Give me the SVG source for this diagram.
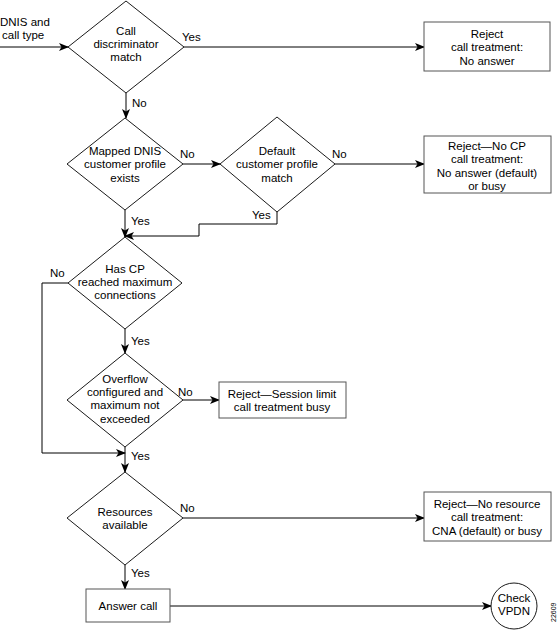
<svg xmlns="http://www.w3.org/2000/svg" width="560" height="633" viewBox="0 0 560 633">
<defs>
<marker id="ah" markerWidth="10" markerHeight="8" refX="9" refY="4" orient="auto" markerUnits="userSpaceOnUse">
<path d="M0,0 L10,4 L0,8 L2.5,4 Z" fill="#000"/>
</marker>
<style>
text{font-family:"Liberation Sans",Arial,sans-serif;font-size:11.5px;fill:#000}
.c{text-anchor:middle}
.n{fill:#fff;stroke:#000;stroke-width:0.9}
.b{fill:#fff;stroke:#555;stroke-width:1}
.l{fill:none;stroke:#000;stroke-width:1}
.a{marker-end:url(#ah)}
</style>
</defs>
<rect width="560" height="633" fill="#fff"/>
<g id="connectors">
<path class="l a" d="M0,47 H68"/>
<path class="l a" d="M184,47 H424"/>
<path class="l a" d="M126,93 V118"/>
<path class="l a" d="M183,164 H220"/>
<path class="l a" d="M335,164 H424"/>
<path class="l a" d="M125,210 V237"/>
<path class="l a" d="M277,212 V224 H199 V236 H125"/>
<path class="l a" d="M125,329 V353"/>
<path class="l a" d="M68,283 H42 V453 H125"/>
<path class="l a" d="M183,400 H219"/>
<path class="l a" d="M125,447 V472"/>
<path class="l a" d="M183,518 H424"/>
<path class="l a" d="M125,565 V589"/>
<path class="l a" d="M170,606 H491"/>
<text x="0" y="26">DNIS and</text>
<text x="2" y="39">call type</text>
<text x="182" y="41">Yes</text>
<text x="132" y="107">No</text>
<text x="180" y="158">No</text>
<text x="332" y="158">No</text>
<text x="131" y="225">Yes</text>
<text x="252" y="219">Yes</text>
<text x="50" y="277">No</text>
<text x="131" y="345">Yes</text>
<text x="178" y="396">No</text>
<text x="131" y="460">Yes</text>
<text x="180" y="512">No</text>
<text x="131" y="577">Yes</text>
</g>
<g id="d1">
<polygon class="n" points="126,1 184,47 126,93 68,47"/>
<text class="c" x="126" y="35">Call</text>
<text class="c" x="126" y="48">discriminator</text>
<text class="c" x="126" y="61">match</text>
</g>
<g id="r1">
<rect class="b" x="424" y="22" width="126" height="49"/>
<text class="c" x="487" y="38">Reject</text>
<text class="c" x="487" y="51">call treatment:</text>
<text class="c" x="487" y="65">No answer</text>
</g>
<g id="d2">
<polygon class="n" points="125,118 183,164 125,210 67,164"/>
<text class="c" x="125" y="155">Mapped DNIS</text>
<text class="c" x="125" y="168">customer profile</text>
<text class="c" x="125" y="182">exists</text>
</g>
<g id="d3">
<polygon class="n" points="277,117 335,164 277,212 220,164"/>
<text class="c" x="277" y="155">Default</text>
<text class="c" x="277" y="168">customer profile</text>
<text class="c" x="277" y="182">match</text>
</g>
<g id="r2">
<rect class="b" x="424" y="136" width="127" height="57"/>
<text class="c" x="487" y="150">Reject—No CP</text>
<text class="c" x="487" y="163">call treatment:</text>
<text class="c" x="487" y="177">No answer (default)</text>
<text class="c" x="487" y="190">or busy</text>
</g>
<g id="d4">
<polygon class="n" points="125,237 182,283 125,329 68,283"/>
<text class="c" x="125" y="273">Has CP</text>
<text class="c" x="125" y="286">reached maximum</text>
<text class="c" x="125" y="299">connections</text>
</g>
<g id="d5">
<polygon class="n" points="125,353 183,400 125,447 67,400"/>
<text class="c" x="125" y="383">Overflow</text>
<text class="c" x="125" y="396">configured and</text>
<text class="c" x="125" y="409">maximum not</text>
<text class="c" x="125" y="423">exceeded</text>
</g>
<g id="r3">
<rect class="b" x="219" y="382" width="127" height="36"/>
<text class="c" x="282" y="398">Reject—Session limit</text>
<text class="c" x="282" y="411">call treatment busy</text>
</g>
<g id="d6">
<polygon class="n" points="125,472 183,518 125,565 67,518"/>
<text class="c" x="125" y="516">Resources</text>
<text class="c" x="125" y="529">available</text>
</g>
<g id="r4">
<rect class="b" x="424" y="492" width="127" height="49"/>
<text class="c" x="487" y="508">Reject—No resource</text>
<text class="c" x="487" y="521">call treatment:</text>
<text class="c" x="487" y="535">CNA (default) or busy</text>
</g>
<g id="r5">
<rect class="b" x="86" y="589" width="84" height="33"/>
<text class="c" x="128" y="610">Answer call</text>
</g>
<g id="c1">
<circle class="n" cx="514" cy="606" r="23"/>
<text class="c" x="514" y="602">Check</text>
<text class="c" x="514" y="615">VPDN</text>
</g>
<text x="556" y="622" transform="rotate(-90 556 622)" style="font-size:7px">22609</text>
</svg>
